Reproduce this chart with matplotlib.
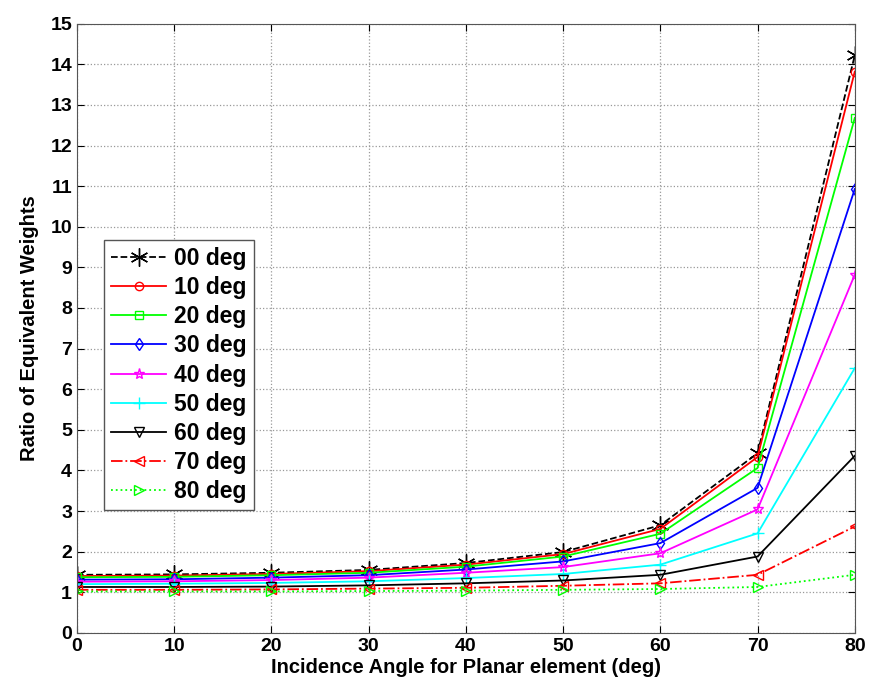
import matplotlib
matplotlib.use('Agg')
import matplotlib.pyplot as plt

plt.rcParams['font.family'] = ['Liberation Sans', 'DejaVu Sans']
plt.rcParams['font.weight'] = 'bold'

angles = [0, 10, 20, 30, 40, 50, 60, 70, 80]
labels = ['00 deg', '10 deg', '20 deg', '30 deg', '40 deg', '50 deg', '60 deg', '70 deg', '80 deg']

d00 = [1.43, 1.44, 1.48, 1.55, 1.72, 1.99, 2.65, 4.42, 14.22]
d10 = [1.40, 1.41, 1.45, 1.52, 1.68, 1.94, 2.56, 4.33, 13.82]
d20 = [1.37, 1.38, 1.42, 1.48, 1.63, 1.88, 2.44, 4.06, 12.68]
d30 = [1.31, 1.32, 1.36, 1.42, 1.56, 1.76, 2.21, 3.57, 10.93]
d40 = [1.26, 1.27, 1.30, 1.36, 1.48, 1.62, 1.96, 3.04, 8.82]
d50 = [1.20, 1.21, 1.23, 1.27, 1.35, 1.45, 1.68, 2.45, 6.52]
d60 = [1.13, 1.13, 1.14, 1.17, 1.22, 1.29, 1.43, 1.88, 4.36]
d70 = [1.06, 1.06, 1.07, 1.09, 1.11, 1.16, 1.22, 1.43, 2.62]
d80 = [1.02, 1.02, 1.02, 1.03, 1.04, 1.06, 1.08, 1.13, 1.43]

series = [d00, d10, d20, d30, d40, d50, d60, d70, d80]
asterisk = (6, 2, 0)
styles = [
    ('black', '--', asterisk, 13),
    ('red', '-', 'o', 6),
    ('lime', '-', 's', 6),
    ('blue', '-', 'd', 6),
    ('magenta', '-', '*', 8),
    ('cyan', '-', '+', 9),
    ('black', '-', 'v', 7),
    ('red', '-.', '<', 7),
    ('lime', ':', '>', 7),
]

fig = plt.figure(figsize=(8.74, 6.97), dpi=100)
ax = fig.add_axes([0.088, 0.092, 0.890, 0.874])

for vals, lab, (c, ls, m, ms) in zip(series, labels, styles):
    ax.plot(angles, vals, color=c, linestyle=ls, marker=m, markersize=ms,
            markerfacecolor='none', markeredgecolor=c, linewidth=1.3, label=lab)

ax.set_xlim(0, 80)
ax.set_ylim(0, 15)
ax.set_xticks(range(0, 81, 10))
ax.set_yticks(range(0, 16))
ax.grid(True, linestyle=':', color='#999999', linewidth=0.9)
ax.tick_params(direction='in', top=True, right=True, labelsize=14, length=5)
for lbl in ax.get_xticklabels() + ax.get_yticklabels():
    lbl.set_fontweight('bold')
for s in ax.spines.values():
    s.set_color('#555555')

ax.set_xlabel('Incidence Angle for Planar element (deg)', fontsize=14.5, fontweight='bold', labelpad=2)
ax.set_ylabel('Ratio of Equivalent Weights', fontsize=14.5, fontweight='bold', labelpad=8)

leg = ax.legend(loc='upper left', bbox_to_anchor=(0.035, 0.645), fontsize=16.5,
                fancybox=False, edgecolor='#555555', framealpha=1,
                handlelength=2.4, labelspacing=0.27, borderpad=0.3, handletextpad=0.35,
                borderaxespad=0)
for t in leg.get_texts():
    t.set_fontweight('bold')

fig.savefig('out.png', dpi=100)
